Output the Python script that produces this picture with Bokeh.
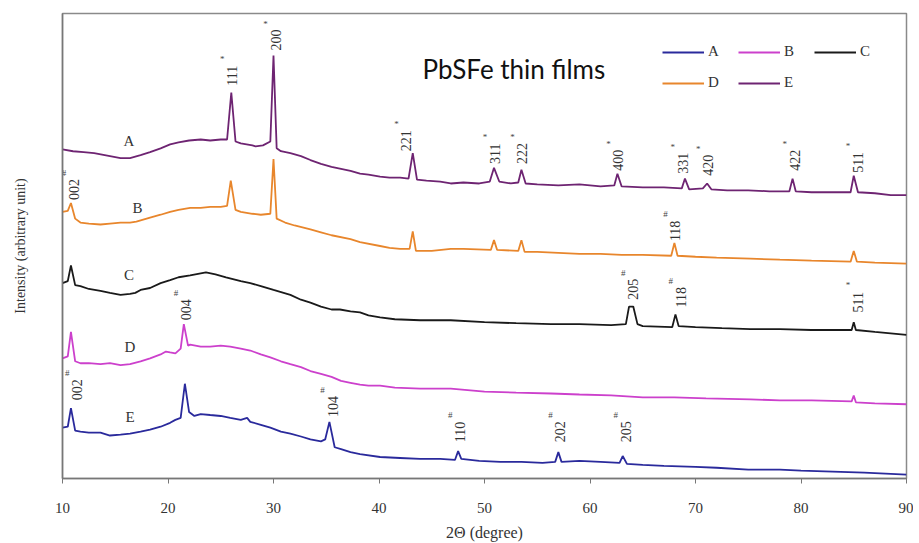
from math import pi
from bokeh.plotting import figure
from bokeh.models import (ColumnDataSource, FixedTicker, Legend, LegendItem, Label, Range1d)
from bokeh.core.properties import value
from bokeh.embed import file_html
from bokeh.resources import INLINE

# ---------------- data (2-theta in degree, intensity in arbitrary units) ----------------
deg_A = [10.0, 11.0, 12.0, 13.0, 14.0, 15.0, 15.5, 16.4, 17.4, 18.3, 19.3, 20.2, 21.0, 22.0, 23.1, 24.0, 25.0,
         25.6, 26.0, 26.4, 26.9, 28.0, 28.3, 29.0, 29.7, 30.0, 30.3, 30.7, 31.6, 32.6, 33.5, 34.5, 35.5, 36.4,
         37.3, 38.2, 39.0, 40.1, 41.0, 42.0, 42.8, 43.2, 43.6, 44.5, 45.8, 46.8, 48.0, 49.5, 50.5, 50.9, 51.4,
         52.5, 53.2, 53.5, 53.9, 55.0, 57.0, 59.0, 61.0, 62.3, 62.6, 63.0, 65.0, 67.0, 68.7, 69.0, 69.4, 70.7,
         71.1, 71.5, 73.0, 75.0, 77.0, 78.9, 79.2, 79.5, 81.0, 83.0, 84.7, 85.0, 85.4, 87.0, 88.5, 90.0]
int_A = [337, 335, 334, 333, 331, 329, 328, 328, 331, 334, 338, 342, 344, 346, 347, 346, 347,
         347, 395, 345, 343, 341, 340, 341, 345, 433, 338, 335, 333, 330, 326, 322, 319, 317,
         315, 312, 311, 309, 308, 308, 307, 333, 306, 305, 304, 302, 303, 302, 304, 318, 304,
         302, 303, 316, 302, 301, 300, 301, 299, 300, 312, 299, 298, 298, 297, 307, 296, 297,
         302, 296, 295, 295, 294, 294, 307, 294, 293, 293, 293, 310, 293, 292, 290, 290]

deg_B = [10.0, 10.5, 10.8, 11.2, 11.7, 12.5, 13.6, 14.5, 15.5, 16.4, 17.0, 18.3, 19.3, 20.2, 21.0, 22.1, 23.1,
         24.0, 25.0, 25.6, 25.95, 26.4, 26.9, 28.0, 28.8, 29.7, 30.0, 30.3, 31.1, 32.0, 33.5, 34.5, 35.5, 37.3,
         38.2, 40.1, 41.0, 42.0, 42.9, 43.2, 43.5, 45.0, 46.8, 48.0, 50.6, 50.9, 51.2, 53.2, 53.5, 53.8, 55.0,
         57.0, 59.0, 61.0, 63.0, 65.0, 67.7, 68.0, 68.3, 70.0, 72.0, 75.2, 78.0, 81.0, 84.7, 85.0, 85.3, 87.0, 90.0]
int_B = [273, 274, 282, 266, 262, 261, 260, 261, 262, 262, 263, 267, 270, 273, 275, 277, 277,
         278, 278, 279, 305, 275, 273, 271, 270, 271, 327, 266, 262, 259, 255, 252, 249, 245,
         242, 238, 236, 235, 235, 253, 233, 233, 235, 235, 234, 244, 234, 233, 244, 232, 232,
         231, 230, 230, 229, 229, 228, 241, 228, 227, 226, 225, 224, 223, 222, 233, 222, 221, 220]

deg_C = [10.0, 10.5, 10.8, 11.2, 11.7, 12.5, 13.6, 14.5, 15.5, 16.4, 16.9, 17.4, 18.3, 19.3, 20.2, 21.0, 22.1,
         23.1, 23.6, 24.5, 25.5, 26.9, 27.8, 28.8, 30.0, 31.6, 32.6, 33.5, 34.5, 35.5, 36.3, 37.3, 38.2, 39.0,
         40.1, 41.5, 43.9, 46.8, 50.0, 53.0, 56.3, 59.0, 62.0, 63.4, 63.7, 64.1, 64.5, 65.0, 67.8, 68.1, 68.4,
         70.0, 72.5, 75.2, 78.0, 81.0, 84.8, 85.0, 85.2, 87.0, 90.0]
int_C = [200, 202, 218, 198, 197, 194, 192, 190, 188, 189, 190, 193, 195, 200, 203, 206, 208,
         210, 211, 209, 206, 202, 200, 197, 193, 188, 183, 180, 176, 173, 173, 171, 170, 167,
         165, 163, 162, 162, 160, 159, 158, 158, 157, 158, 176, 176, 158, 156, 155, 168, 156,
         155, 154, 153, 153, 152, 152, 160, 152, 150, 147]

deg_D = [10.0, 10.5, 10.8, 11.2, 11.7, 12.5, 13.6, 14.5, 15.5, 16.4, 17.4, 18.3, 19.3, 19.8, 20.2, 20.7, 21.2,
         21.5, 21.9, 22.1, 23.1, 24.0, 25.0, 25.9, 26.9, 27.8, 28.8, 29.7, 30.7, 31.6, 32.6, 33.5, 34.5, 35.5,
         36.4, 37.3, 38.2, 39.0, 40.1, 41.5, 43.9, 46.8, 50.0, 53.0, 56.3, 59.0, 62.0, 65.0, 68.0, 71.0, 75.2,
         78.0, 81.0, 84.8, 85.0, 85.2, 87.0, 90.0]
int_D = [123, 125, 150, 120, 118, 118, 117, 118, 116, 117, 120, 123, 127, 130, 129, 128, 133,
         158, 136, 137, 135, 135, 136, 135, 133, 131, 127, 124, 120, 117, 114, 110, 107, 104,
         100, 98, 96, 95, 95, 93, 92, 92, 89, 88, 87, 86, 85, 83, 83, 82, 81,
         80, 80, 79, 85, 78, 77, 76]

deg_E = [10.0, 10.5, 10.8, 11.2, 11.7, 12.5, 13.6, 14.5, 15.5, 16.4, 17.4, 18.3, 19.3, 20.2, 20.7, 21.2, 21.6,
         22.0, 22.5, 23.1, 24.0, 25.0, 25.9, 26.9, 27.5, 27.8, 28.8, 29.7, 30.7, 31.6, 32.6, 33.5, 34.5, 34.9,
         35.3, 35.8, 36.4, 37.3, 38.2, 40.1, 42.0, 43.9, 45.8, 47.2, 47.5, 47.8, 49.5, 51.5, 53.5, 55.5, 56.7,
         57.0, 57.3, 59.0, 61.0, 62.8, 63.1, 63.5, 65.0, 67.0, 70.0, 72.0, 75.0, 78.0, 80.0, 83.0, 86.0, 88.0, 90.0]
int_E = [52, 53, 72, 49, 48, 47, 47, 44, 45, 46, 48, 50, 53, 57, 60, 62, 97,
         68, 64, 66, 65, 64, 62, 60, 62, 58, 55, 52, 48, 46, 43, 40, 38, 40,
         58, 32, 30, 27, 25, 22, 21, 20, 20, 19, 28, 20, 18, 17, 17, 16, 17,
         27, 17, 18, 17, 16, 23, 15, 14, 13, 12, 11, 9, 9, 8, 7, 6, 5, 4]

# peak annotations (position of the text foot, Miller indices, phase mark)
peak_x = [26.1, 30.2, 42.6, 51.0, 53.6, 62.7, 68.8, 71.2, 79.4, 85.4,
          11.1, 68.1,
          64.1, 68.6, 85.4,
          21.7,
          11.4, 35.6, 47.7, 57.2, 63.4]
peak_y = [402, 438, 335, 322, 322, 315, 312, 310, 315, 313,
          285, 243,
          183, 175, 170,
          162,
          80, 63, 37, 37, 37]
peak_hkl = ["111", "200", "221", "311", "222", "400", "331", "420", "422", "511",
            "002", "118",
            "205", "118", "511",
            "004",
            "002", "104", "110", "202", "205"]
peak_mark = ["*", "*", "*", "*", "*", "*", "*", "*", "*", "*",
             "#", "#",
             "#", "#", "*",
             "#",
             "#", "#", "#", "#", "#"]

curve_names = ["A", "B", "C", "D", "E"]
curve_name_x = [16.3, 17.1, 16.3, 16.4, 16.4]
curve_name_y = [345, 277, 208, 135, 63]

legend_labels = ["A", "B", "C", "D", "E"]
x_ticks = [10, 20, 30, 40, 50, 60, 70, 80, 90]

# ---------------- styles ----------------
col_A = "#6e2472"   # purple (legend E)
col_B = "#e8862c"   # orange (legend D)
col_C = "#1a1a1a"   # black  (legend C)
col_D = "#cc40cc"   # magenta (legend B)
col_E = "#2a2a9c"   # blue   (legend A)
SERIF = "Liberation Serif"

p = figure(width=913, height=543, output_backend="svg", toolbar_location=None,
           x_range=Range1d(10, 90), y_range=Range1d(0, 476),
           min_border_left=62, min_border_right=7, min_border_top=13, min_border_bottom=53)
p.grid.grid_line_color = None
p.background_fill_color = "white"
p.outline_line_color = "#8a8a8a"
p.outline_line_width = 1.5

rA = p.line(deg_A, int_A, line_color=col_A, line_width=1.8)
rB = p.line(deg_B, int_B, line_color=col_B, line_width=1.8)
rC = p.line(deg_C, int_C, line_color=col_C, line_width=1.8)
rD = p.line(deg_D, int_D, line_color=col_D, line_width=1.8)
rE = p.line(deg_E, int_E, line_color=col_E, line_width=1.8)

# axes
xa = p.xaxis[0]
xa.ticker = FixedTicker(ticks=x_ticks)
xa.minor_tick_line_color = None
xa.major_tick_in = 0
xa.major_tick_out = 5
xa.axis_line_color = "#777777"
xa.axis_line_width = 1.5
xa.major_tick_line_color = "#777777"
xa.major_label_text_font = SERIF
xa.major_label_text_font_size = "15px"
xa.major_label_text_color = "#333333"
xa.major_label_standoff = 19
xa.axis_label = "2\u0398 (degree)"
xa.axis_label_text_font = SERIF
xa.axis_label_text_font_size = "16px"
xa.axis_label_text_font_style = "normal"
xa.axis_label_text_color = "#333333"
xa.axis_label_standoff = 8

ya = p.yaxis[0]
ya.ticker = FixedTicker(ticks=[])
ya.minor_tick_line_color = None
ya.major_tick_line_color = None
ya.axis_line_color = "#777777"
ya.axis_line_width = 1.5
ya.axis_label = "Intensity (arbitrary unit)"
ya.axis_label_text_font = SERIF
ya.axis_label_text_font_size = "14px"
ya.axis_label_text_font_style = "normal"
ya.axis_label_text_color = "#333333"
ya.axis_label_standoff = 35

# peak labels
src = ColumnDataSource(dict(x=peak_x, y=peak_y, t=peak_hkl, m=peak_mark))
p.text(x="x", y="y", text="t", source=src, angle=pi / 2, text_align="left", text_baseline="middle",
       text_font=value(SERIF), text_font_size="14px", text_color="#333333")
p.text(x="x", y="y", text="m", source=src, x_offset=-10, y_offset=-27, text_align="center",
       text_baseline="middle", text_font=value(SERIF), text_font_size="9px", text_color="#444444")

# curve names
p.text(x=curve_name_x, y=curve_name_y, text=curve_names, text_align="center", text_baseline="middle",
       text_font=value(SERIF), text_font_size="15px", text_color="#333333")

# title text
p.add_layout(Label(x=360, y=410, x_units="screen", y_units="screen", text="PbSFe thin films",
                   text_font="Lato", text_font_size="26px", text_color="#111111",
                   text_baseline="alphabetic"))

# legend (column-major fill: A D | B E | C)
legend = Legend(items=[LegendItem(label=legend_labels[0], renderers=[rE]),
                       LegendItem(label=legend_labels[3], renderers=[rB]),
                       LegendItem(label=legend_labels[1], renderers=[rD]),
                       LegendItem(label=legend_labels[4], renderers=[rA]),
                       LegendItem(label=legend_labels[2], renderers=[rC])],
                ncols=3, location="top_right", orientation="vertical",
                border_line_color=None, background_fill_alpha=0,
                label_text_font=SERIF, label_text_font_size="15px", label_text_color="#333333",
                glyph_width=42, glyph_height=16, label_height=16, label_width=16, label_standoff=4,
                spacing=14, margin=30, padding=10)
p.add_layout(legend)

open("out.html", "w").write(file_html(p, INLINE))
